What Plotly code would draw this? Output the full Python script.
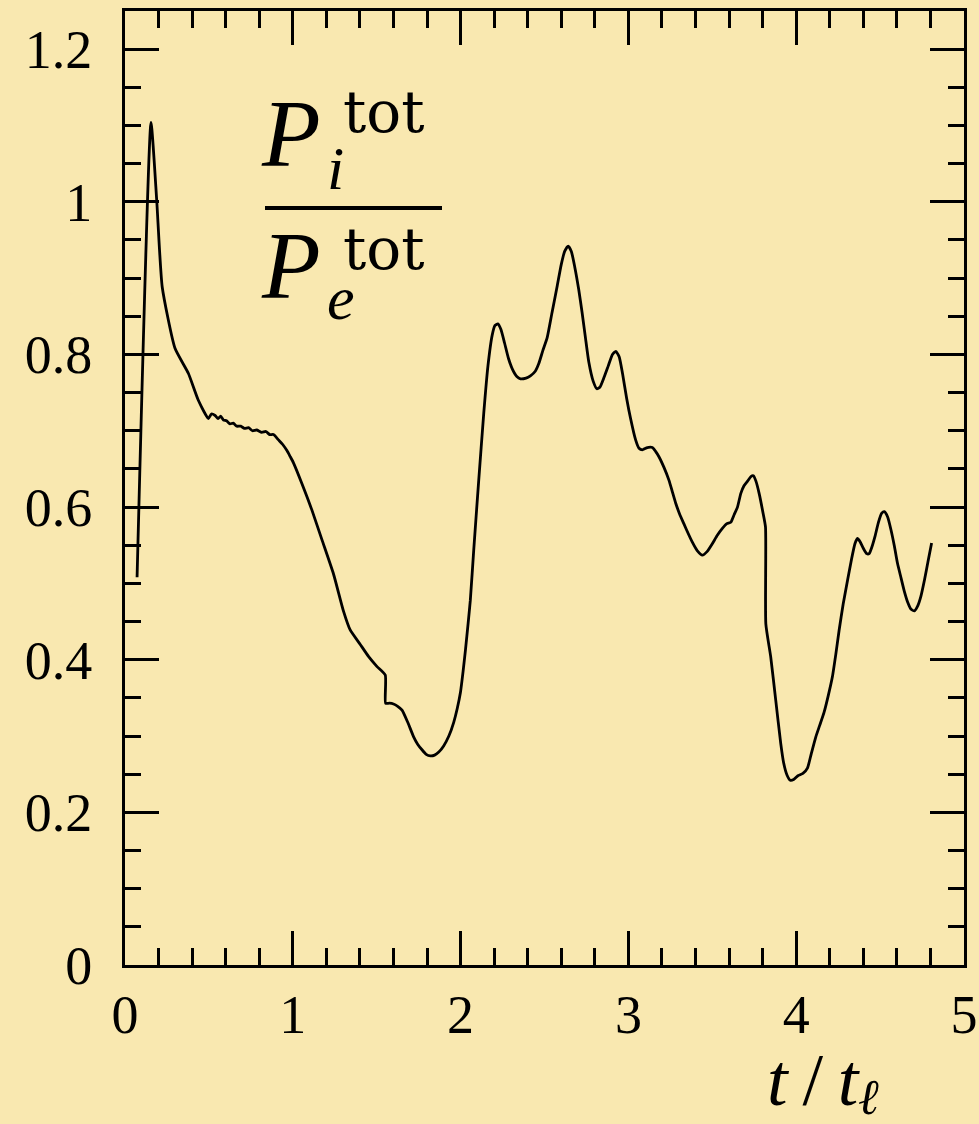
import plotly.graph_objects as go

# time t/t_l
t = [0.072, 0.155, 0.189, 0.222, 0.298, 0.378, 0.437, 0.497, 0.515, 0.537, 0.555, 0.570, 0.587,
     0.605, 0.626, 0.645, 0.666, 0.690, 0.712, 0.736, 0.760, 0.785, 0.815, 0.840, 0.862, 0.885,
     0.915, 0.940, 0.965, 0.985, 1.004, 1.054, 1.114, 1.174, 1.243, 1.303, 1.342, 1.402, 1.452,
     1.502, 1.551, 1.553, 1.575, 1.600, 1.625, 1.651, 1.685, 1.720, 1.745, 1.770, 1.795, 1.820,
     1.845, 1.870, 1.899, 1.930, 1.959, 1.980, 1.999, 2.015, 2.029, 2.045, 2.058, 2.078, 2.108,
     2.138, 2.163, 2.188, 2.205, 2.222, 2.240, 2.262, 2.285, 2.310, 2.335, 2.357, 2.390, 2.416,
     2.445, 2.466, 2.490, 2.516, 2.545, 2.576, 2.600, 2.620, 2.641, 2.660, 2.680, 2.704, 2.724,
     2.744, 2.764, 2.790, 2.812, 2.830, 2.855, 2.880, 2.905, 2.925, 2.945, 2.965, 2.990, 3.013,
     3.043, 3.063, 3.083, 3.113, 3.143, 3.162, 3.182, 3.212, 3.242, 3.262, 3.282, 3.305, 3.331,
     3.355, 3.381, 3.410, 3.441, 3.470, 3.500, 3.530, 3.560, 3.585, 3.610, 3.630, 3.650, 3.670,
     3.689, 3.710, 3.730, 3.745, 3.760, 3.779, 3.800, 3.817, 3.819, 3.848, 3.878, 3.908, 3.925,
     3.945, 3.965, 3.985, 4.010, 4.040, 4.067, 4.090, 4.117, 4.140, 4.166, 4.190, 4.216, 4.236,
     4.256, 4.280, 4.306, 4.330, 4.350, 4.365, 4.380, 4.400, 4.420, 4.435, 4.450, 4.470, 4.490,
     4.510, 4.525, 4.545, 4.565, 4.585, 4.604, 4.625, 4.644, 4.665, 4.685, 4.704, 4.725, 4.743,
     4.765, 4.785, 4.807]

# ratio P_i^tot / P_e^tot
ratio = [0.508, 1.104, 1.002, 0.888, 0.808, 0.775, 0.740, 0.716, 0.722, 0.720, 0.716, 0.719, 0.714,
         0.713, 0.709, 0.710, 0.706, 0.706, 0.703, 0.704, 0.700, 0.701, 0.698, 0.699, 0.695, 0.695,
         0.688, 0.682, 0.674, 0.666, 0.658, 0.631, 0.596, 0.557, 0.512, 0.463, 0.439, 0.420, 0.404,
         0.391, 0.380, 0.343, 0.343, 0.342, 0.339, 0.334, 0.318, 0.299, 0.289, 0.282, 0.276, 0.274,
         0.275, 0.279, 0.287, 0.300, 0.318, 0.336, 0.357, 0.385, 0.413, 0.448, 0.478, 0.543, 0.635,
         0.723, 0.785, 0.825, 0.838, 0.840, 0.833, 0.815, 0.795, 0.780, 0.771, 0.768, 0.769, 0.772,
         0.778, 0.788, 0.805, 0.822, 0.855, 0.890, 0.918, 0.935, 0.942, 0.935, 0.915, 0.885, 0.855,
         0.822, 0.790, 0.765, 0.755, 0.757, 0.770, 0.785, 0.800, 0.804, 0.797, 0.775, 0.742, 0.716,
         0.688, 0.677, 0.675, 0.678, 0.678, 0.673, 0.666, 0.652, 0.635, 0.620, 0.605, 0.591, 0.578,
         0.566, 0.554, 0.543, 0.537, 0.542, 0.552, 0.563, 0.572, 0.578, 0.580, 0.590, 0.600, 0.618,
         0.628, 0.634, 0.640, 0.641, 0.634, 0.618, 0.595, 0.574, 0.447, 0.404, 0.347, 0.290, 0.265,
         0.249, 0.242, 0.243, 0.248, 0.251, 0.258, 0.277, 0.299, 0.314, 0.331, 0.352, 0.378, 0.407,
         0.439, 0.473, 0.504, 0.532, 0.552, 0.559, 0.555, 0.546, 0.539, 0.539, 0.547, 0.562, 0.580,
         0.592, 0.594, 0.587, 0.570, 0.549, 0.526, 0.507, 0.490, 0.475, 0.466, 0.464, 0.471, 0.483,
         0.505, 0.528, 0.553]

x_ticks = [0, 1, 2, 3, 4, 5]
x_tick_labels = ["0", "1", "2", "3", "4", "5"]
y_ticks = [0, 0.2, 0.4, 0.6, 0.8, 1.0, 1.2]
y_tick_labels = ["0", "0.2", "0.4", "0.6", "0.8", "1", "1.2"]

BG = "#F9E8B0"
FONT = "Liberation Serif"
W, H = 979, 1124
ML, MR, MT, MB = 125, 15, 11, 159


def px(xp):
    return (xp - ML) / (W - ML - MR)


def py(yp):
    return (H - MB - yp) / (H - MT - MB)


fig = go.Figure()
fig.add_trace(go.Scatter(x=t, y=ratio, mode="lines",
                         line=dict(color="black", width=2.8, shape="spline", smoothing=0.5),
                         showlegend=False, hoverinfo="skip"))

axis_common = dict(
    showgrid=False, zeroline=False, showline=True, linecolor="black", linewidth=3,
    mirror="allticks", ticks="inside", tickcolor="black", tickwidth=3, ticklen=34,
    tickfont=dict(family=FONT, size=54, color="black"), automargin=False,
)

fig.update_xaxes(range=[0, 5], tickvals=x_ticks, ticktext=x_tick_labels,
                 minor=dict(dtick=0.2, tick0=0, ticks="inside", ticklen=17,
                            tickwidth=3, tickcolor="black"),
                 ticklabelstandoff=0, **axis_common)
fig.update_yaxes(range=[0, 1.25], tickvals=y_ticks, ticktext=y_tick_labels,
                 minor=dict(dtick=0.05, tick0=0, ticks="inside", ticklen=16,
                            tickwidth=3, tickcolor="black"),
                 ticklabelstandoff=19, **axis_common)

ann = []
# fraction label
ann.append(dict(text="<i>P</i>", x=px(260), y=py(134), xanchor="left", yanchor="middle",
                font=dict(family=FONT, size=96, color="black")))
ann.append(dict(text="tot", x=px(342), y=py(112), xanchor="left", yanchor="middle",
                font=dict(family="DejaVu Serif", size=58, color="black")))
ann.append(dict(text="<i>i</i>", x=px(326), y=py(168), xanchor="left", yanchor="middle",
                font=dict(family=FONT, size=62, color="black")))
ann.append(dict(text="<i>P</i>", x=px(260), y=py(265), xanchor="left", yanchor="middle",
                font=dict(family=FONT, size=96, color="black")))
ann.append(dict(text="tot", x=px(342), y=py(249), xanchor="left", yanchor="middle",
                font=dict(family="DejaVu Serif", size=58, color="black")))
ann.append(dict(text="<i>e</i>", x=px(326), y=py(298), xanchor="left", yanchor="middle",
                font=dict(family=FONT, size=62, color="black")))
# x axis title
ann.append(dict(text="<i>t</i>\u2009/\u2009<i>t</i>", x=px(766), y=py(1080), xanchor="left",
                yanchor="middle", font=dict(family=FONT, size=74, color="black")))
ann.append(dict(text="<i>ℓ</i>", x=px(857), y=py(1097), xanchor="left", yanchor="middle",
                font=dict(family=FONT, size=50, color="black")))
for a in ann:
    a.update(xref="paper", yref="paper", showarrow=False, borderpad=0)

fig.update_layout(
    width=W, height=H, margin=dict(l=ML, r=MR, t=MT, b=MB),
    paper_bgcolor=BG, plot_bgcolor=BG, annotations=ann, hovermode=False,
    shapes=[dict(type="line", xref="paper", yref="paper",
                 x0=px(265), x1=px(442), y0=py(208), y1=py(208),
                 line=dict(color="black", width=4))],
)

fig.write_html(
    "out.html",
    config={"displayModeBar": False},
    post_script="document.body.style.margin='0';document.body.style.padding='0';"
                "document.body.style.background='%s';document.body.style.overflow='hidden';" % BG,
)
